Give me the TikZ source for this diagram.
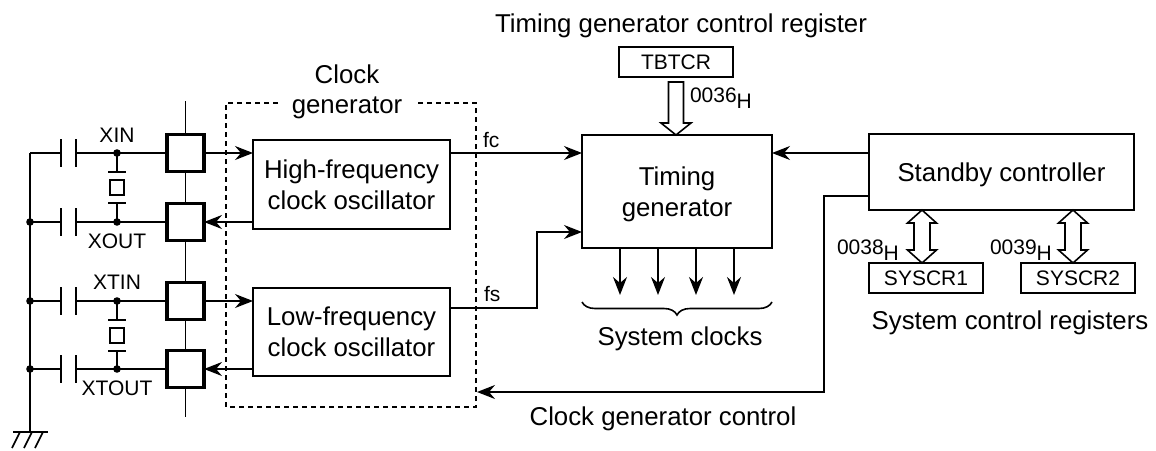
\documentclass[tikz,border=0pt]{standalone}
\usepackage{fontspec}
\setmainfont{Liberation Sans}
\usetikzlibrary{arrows.meta,calc,decorations.pathreplacing}
\begin{document}
\begin{tikzpicture}[x=0.5pt,y=-0.5pt,
  every node/.style={inner sep=0pt, outer sep=0pt},
  big/.style={font=\fontsize{12.9}{15.5}\selectfont},
  small/.style={font=\fontsize{10.5}{12.5}\selectfont},
  blk/.style={draw, line width=0.9pt, align=center, big, text depth=0pt},
  reg/.style={draw, line width=0.9pt, small, minimum width=57pt, minimum height=15pt},
  pad/.style={draw, line width=1.6pt, fill=white, minimum width=18.5pt, minimum height=18.5pt},
  wire/.style={line width=0.8pt},
  arr/.style={wire, -{Stealth[length=9pt,width=7pt,inset=3pt]}},
  hollow/.style={draw, line width=0.8pt, fill=white, line join=miter},
  plate/.style={line width=1.1pt},
  dot/.style={circle, fill, inner sep=0pt, minimum size=3.8pt},
  dashbox/.style={line width=0.65pt, dash pattern=on 2.5pt off 2pt},
]
\useasboundingbox (0,0) rectangle (1156,450);

% ---------- titles and labels ----------
\node[big, anchor=base] (title) at (681,32) {Timing generator control register};
\node[big, anchor=base] (cgl1) at (347,83) {Clock};
\node[big, anchor=base] (cgl2) at (347,113) {generator};
\node[big, anchor=base] (sysclk) at (680,345) {System clocks};
\node[big, anchor=base] (cgc) at (663,425) {Clock generator control};
\node[big, anchor=base] (scr) at (1010,329) {System control registers};

% ---------- blocks ----------
\node[reg] (tbtcr) at (676,62) {TBTCR};
\node[blk, minimum width=95pt, minimum height=56.5pt] (timing) at (677,191.5) {Timing\\generator};
\node[blk, minimum width=98.5pt, minimum height=44.5pt] (hf) at (351.5,184.5) {High-frequency\\clock oscillator};
\node[blk, minimum width=98.5pt, minimum height=44pt] (lf) at (351.5,332) {Low-frequency\\clock oscillator};
\node[blk, minimum width=132.5pt, minimum height=38pt] (standby) at (1001.5,172) {Standby controller};
\node[reg] (sys1) at (926,278) {SYSCR1};
\node[reg] (sys2) at (1078,278) {SYSCR2};

\node[small, anchor=base west] (a36) at (690,102.5) {0036\raisebox{-2.75pt}{H}};
\node[small, anchor=base west] (a38) at (837,254.5) {0038\raisebox{-2.75pt}{H}};
\node[small, anchor=base west] (a39) at (990,254.5) {0039\raisebox{-2.75pt}{H}};
\node[small, anchor=base west] (fc) at (483,147) {fc};
\node[small, anchor=base west] (fs) at (484,301) {fs};

% ---------- dashed clock generator frame ----------
\coordinate (d1) at (278,103);
\coordinate (d2) at (226,103);
\coordinate (d3) at (226,407);
\coordinate (d4) at (476,407);
\coordinate (d5) at (476,103);
\coordinate (d6) at (418,103);
\draw[dashbox] (d1) -- (d2) -- (d3) -- (d4) -- (d5) -- (d6);

% ---------- pad column ----------
\coordinate (vt) at (185.5,101);
\coordinate (vb) at (185.5,417);
\draw[wire] (vt) -- (vb);
\node[pad] (p1) at (185.5,153) {};
\node[pad] (p2) at (185.5,222) {};
\node[pad] (p3) at (185.5,301) {};
\node[pad] (p4) at (185.5,369) {};

% ---------- ground rail ----------
\coordinate (gt) at (30,153);
\coordinate (gb) at (30,432);
\draw[wire] (gt) -- (gb);
\draw[wire] (13,432) -- (48,432);
\draw[wire] (20,432) -- (12,448);
\draw[wire] (32,432) -- (24,448);
\draw[wire] (43,432) -- (35,448);

% ---------- rows with capacitors ----------
\foreach \p/\y in {p1/153,p2/222,p3/301,p4/369}{
  \draw[wire] (30,\y) -- (61,\y);
  \draw[plate] (61,\y-14) -- (61,\y+14);
  \draw[plate] (76,\y-14) -- (76,\y+14);
  \draw[wire] (76,\y) -- (\p.west);
  \node[dot] at (117,\y) {};
}
\node[dot] at (30,222) {};
\node[dot] at (30,301) {};
\node[dot] at (30,369) {};

% ---------- crystals ----------
\foreach \y in {153,301}{
  \draw[wire] (117,\y) -- (117,\y+19);
  \draw[plate] (108,\y+19) -- (126,\y+19);
  \draw[wire] (110,\y+27) rectangle (124,\y+42);
  \draw[plate] (108,\y+50) -- (126,\y+50);
  \draw[wire] (117,\y+50) -- (117,\y+69);
}

\node[small] (xin) at (117,135) {XIN};
\node[small] (xout) at (117,241) {XOUT};
\node[small] (xtin) at (117,282) {XTIN};
\node[small] (xtout) at (117,388) {XTOUT};

% ---------- connectors ----------
\draw[arr] (p1.east) -- (p1.east -| hf.west);
\draw[arr] (hf.west |- p2.east) -- (p2.east);
\draw[arr] (p3.east) -- (p3.east -| lf.west);
\draw[arr] (lf.west |- p4.east) -- (p4.east);

\draw[arr] (hf.east |- p1) -- (timing.west |- p1);
\coordinate (fsb) at (537,308);
\draw[arr] (lf.east |- fsb) -- (fsb) |- ($(timing.south west)+(0,-16)$);
\draw[arr] (standby.west |- p1) -- (timing.east |- p1);

\coordinate (cc1) at (824,196);
\coordinate (cc2) at (477,392);
\draw[arr] (standby.west |- cc1) -- (cc1) |- (cc2);

\foreach \i/\x in {1/620,2/658,3/696,4/734}{
  \coordinate (sc\i) at (\x,295);
  \draw[arr] (timing.south -| sc\i) -- (sc\i);
}
\coordinate (brl) at (582,302);
\coordinate (brr) at (772,302);
\draw[wire, decorate, decoration={brace, mirror, amplitude=6.5pt}] (brl) -- (brr);

% ---------- hollow bus arrows ----------
\coordinate (tip) at (tbtcr.south |- timing.north);
\draw[hollow] (tip) -- ++(-15,-12) -- ++(7.5,0) -- ++(0,-41) -- ++(15,0) -- ++(0,41) -- ++(7.5,0) -- cycle;

\foreach \s/\x in {sys1/922,sys2/1073}{
  \coordinate (T\s) at (\x,210);
  \draw[hollow] (T\s) -- ++(14.5,13) -- ++(-6.5,0) -- ++(0,27) -- ++(6.5,0)
     -- ++(-14.5,13) -- ++(-14.5,-13) -- ++(6.5,0) -- ++(0,-27) -- ++(-6.5,0) -- cycle;
}
\end{tikzpicture}
\end{document}
